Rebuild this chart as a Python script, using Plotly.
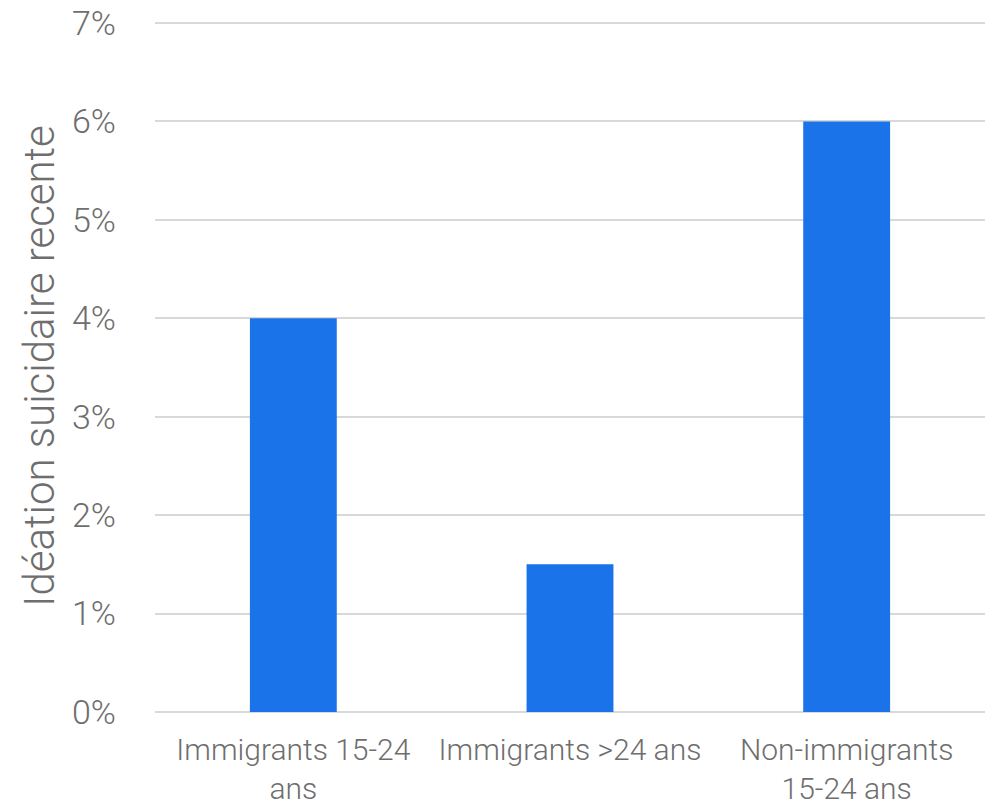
import plotly.graph_objects as go

categories = ["Immigrants 15-24<br>ans", "Immigrants >24 ans", "Non-immigrants<br>15-24 ans"]
values = [0.04, 0.015, 0.06]
y_ticks = [0, 0.01, 0.02, 0.03, 0.04, 0.05, 0.06, 0.07]
y_title = "Idéation suicidaire recente"

font_family = "Roboto"
text_color = "#6e6e6e"

fig = go.Figure(go.Bar(x=categories, y=values, marker_color="#1a73e8", marker_line_width=0))
fig.update_layout(
    width=1000, height=809,
    margin=dict(l=155, r=15, t=20, b=97),
    paper_bgcolor="white", plot_bgcolor="white",
    bargap=0.686,
    showlegend=False,
    font=dict(family=font_family, color=text_color, size=31, weight=300),
)
fig.update_yaxes(
    range=[0, 0.0703], tickvals=y_ticks, tickformat=".0%", automargin=False,
    gridcolor="#d9d9d9", gridwidth=1.5, zeroline=True, zerolinecolor="#d9d9d9", zerolinewidth=1.5,
    showline=False, ticklabelstandoff=38,
    tickfont=dict(size=34, family=font_family, color=text_color, weight=300),
    title=dict(text=y_title, font=dict(size=42, family=font_family, color=text_color, weight=300), standoff=4),
)
fig.update_xaxes(
    showline=False, showgrid=False, ticklabelstandoff=17, automargin=False,
    tickfont=dict(size=30, family=font_family, color=text_color, weight=300),
)
fig.write_html("out.html")
